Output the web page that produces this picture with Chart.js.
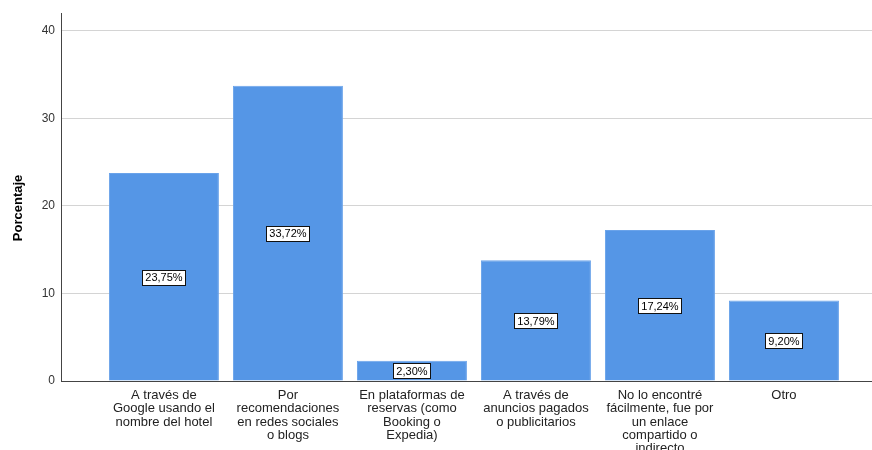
<!DOCTYPE html>
<html>
<head>
<meta charset="utf-8">
<script src="https://cdn.jsdelivr.net/npm/chart.js@4.4.1/dist/chart.umd.min.js"></script>
<style>
  html, body { margin: 0; padding: 0; background: #fff; overflow: hidden; }
  #wrap { width: 872px; height: 450px; position: relative; }
</style>
</head>
<body>
<div id="wrap"><canvas id="chart"></canvas></div>
<script>
// categorías (cada una partida en líneas como en el eje)
const categorias = [
  ["A través de", "Google usando el", "nombre del hotel"],
  ["Por", "recomendaciones", "en redes sociales", "o blogs"],
  ["En plataformas de", "reservas (como", "Booking o", "Expedia)"],
  ["A través de", "anuncios pagados", "o publicitarios"],
  ["No lo encontré", "fácilmente, fue por", "un enlace", "compartido o", "indirecto"],
  ["Otro"]
];
const porcentajes = [23.75, 33.72, 2.30, 13.79, 17.24, 9.20];
const ticksY = [0, 10, 20, 30, 40];

const fuente = "'Liberation Sans', Arial, sans-serif";

// etiqueta con el porcentaje en una cajita blanca en medio de cada barra
const etiquetasBarras = {
  id: "etiquetasBarras",
  afterDatasetsDraw(chart) {
    const ctx = chart.ctx;
    const meta = chart.getDatasetMeta(0);
    const yScale = chart.scales.y;
    ctx.save();
    ctx.font = "11px " + fuente;
    ctx.textAlign = "center";
    ctx.textBaseline = "middle";
    meta.data.forEach((bar, i) => {
      const v = porcentajes[i];
      const txt = v.toFixed(2).replace(".", ",") + "%";
      const w = Math.round(ctx.measureText(txt).width + 6);
      const h = 15;
      let cy = yScale.getPixelForValue(v / 2);
      if (cy + h / 2 > yScale.bottom) cy = yScale.bottom - h / 2;
      const x0 = Math.round(bar.x - w / 2) + 0.5;
      const y0 = Math.round(cy - h / 2) + 0.5;
      ctx.fillStyle = "#ffffff";
      ctx.fillRect(x0, y0, w, h);
      ctx.strokeStyle = "#111111";
      ctx.lineWidth = 1;
      ctx.strokeRect(x0, y0, w, h);
      ctx.fillStyle = "#000000";
      ctx.fillText(txt, bar.x, cy + 1);
    });
    ctx.restore();
  }
};

new Chart(document.getElementById("chart"), {
  type: "bar",
  data: {
    datasets: [{
      data: porcentajes.map((v, i) => ({ x: i, y: v })),
      backgroundColor: "#5596e6",
      borderColor: "#6aa3ea",
      borderWidth: 1,
      categoryPercentage: 1,
      barPercentage: 0.887
    }]
  },
  options: {
    responsive: true,
    maintainAspectRatio: false,
    animation: false,
    layout: { padding: { top: 12, right: 0, left: 0, bottom: 0 } },
    plugins: {
      legend: { display: false },
      tooltip: { enabled: false }
    },
    scales: {
      x: {
        type: "linear",
        offset: false,
        min: -0.83,
        max: 5.71,
        grid: { display: false, drawTicks: false, offset: false },
        border: { display: true, color: "#444444", width: 1 },
        ticks: {
          stepSize: 1,
          includeBounds: false,
          autoSkip: false,
          maxRotation: 0,
          padding: 8,
          color: "#222222",
          font: { family: fuente, size: 13, lineHeight: 1.02 },
          callback: (v) => Number.isInteger(v) && categorias[v] ? categorias[v] : ""
        },
        afterFit: (s) => { s.height = 69; }
      },
      y: {
        min: 0,
        max: 42,
        grid: { color: "#d4d4d4", drawTicks: false },
        border: { display: true, color: "#444444", width: 1 },
        afterBuildTicks: (s) => { s.ticks = ticksY.map(v => ({ value: v })); },
        ticks: {
          padding: 6,
          color: "#333333",
          font: { family: fuente, size: 12 }
        },
        title: {
          display: true,
          // los espacios del final bajan un poco el título
          text: "Porcentaje      ",
          color: "#000000",
          padding: { top: 11, bottom: 0 },
          font: { family: fuente, size: 13, weight: "bold" }
        },
        afterFit: (s) => { s.width = 61; }
      }
    }
  },
  plugins: [etiquetasBarras]
});
</script>
</body>
</html>
